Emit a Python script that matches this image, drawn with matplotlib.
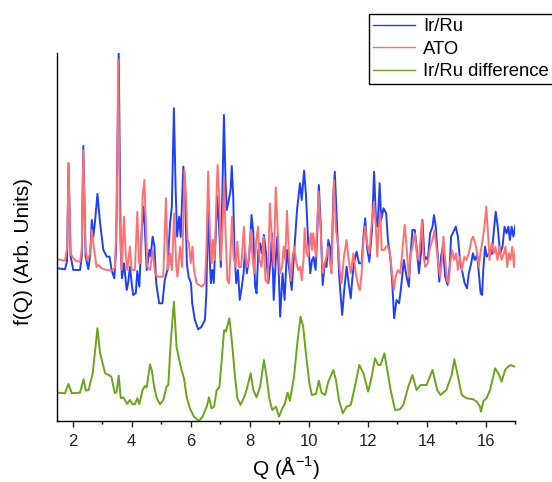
import matplotlib
matplotlib.use("Agg")
import matplotlib.pyplot as plt
from matplotlib.ticker import MultipleLocator

plt.rcParams['font.family'] = ['Liberation Sans', 'DejaVu Sans']
plt.rcParams['mathtext.fontset'] = 'custom'
plt.rcParams['mathtext.rm'] = 'Liberation Sans'

# Reduced PDF f(Q), arbitrary units (curves already offset for display)
q_irru = [1.48, 1.74, 1.81, 1.86, 1.93, 2.02, 2.25, 2.31, 2.36, 2.44, 2.53, 2.59, 2.65, 2.70, 2.76,
          2.84, 2.93, 3.04, 3.16, 3.25, 3.32, 3.41, 3.47, 3.56, 3.63, 3.67, 3.74, 3.83, 3.88, 3.94,
          4.00, 4.05, 4.14, 4.19, 4.26, 4.34, 4.40, 4.44, 4.51, 4.60, 4.64, 4.71, 4.77, 4.83, 4.93,
          5.04, 5.12, 5.21, 5.30, 5.36, 5.43, 5.49, 5.54, 5.61, 5.66, 5.75, 5.80, 5.87, 5.93, 6.01,
          6.05, 6.14, 6.25, 6.36, 6.48, 6.53, 6.59, 6.64, 6.68, 6.73, 6.78, 6.84, 6.90, 6.96, 7.02,
          7.125, 7.18, 7.22, 7.29, 7.35, 7.39, 7.44, 7.48, 7.54, 7.60, 7.66, 7.73, 7.79, 7.84, 7.90,
          7.98, 8.06, 8.12, 8.18, 8.23, 8.29, 8.35, 8.40, 8.48, 8.55, 8.63, 8.71, 8.75, 8.81, 8.88,
          8.93, 8.98, 9.03, 9.11, 9.18, 9.26, 9.34, 9.42, 9.51, 9.60, 9.70, 9.76, 9.84, 9.90, 9.98,
          10.05, 10.11, 10.16, 10.23, 10.29, 10.34, 10.40, 10.47, 10.54, 10.60, 10.66, 10.72, 10.77,
          10.83, 10.88, 10.94, 11.03, 11.13, 11.20, 11.28, 11.35, 11.42, 11.47, 11.53, 11.62, 11.70,
          11.79, 11.85, 11.91, 11.97, 12.05, 12.14, 12.21, 12.28, 12.33, 12.40, 12.45, 12.53, 12.62,
          12.68, 12.76, 12.82, 12.89, 12.97, 13.06, 13.14, 13.22, 13.31, 13.39, 13.44, 13.51, 13.59,
          13.65, 13.73, 13.80, 13.85, 13.92, 13.97, 14.03, 14.11, 14.19, 14.24, 14.30, 14.37, 14.42,
          14.48, 14.54, 14.62, 14.70, 14.77, 14.82, 14.90, 14.98, 15.05, 15.13, 15.21, 15.28, 15.36,
          15.42, 15.50, 15.56, 15.62, 15.70, 15.76, 15.82, 15.87, 15.91, 15.97, 16.03, 16.11, 16.20,
          16.26, 16.33, 16.40, 16.48, 16.56, 16.63, 16.70, 16.76, 16.81, 16.87, 16.93, 17.00]
f_irru = [152.7, 151.7, 160, 257.7, 165, 151, 151, 165, 275, 165, 151.7, 165, 201, 184, 200,
          227, 197.7, 171, 164.3, 164.3, 151, 142.7, 170, 367.7, 170, 142.7, 157.7, 131, 138, 154.3,
          138, 126, 128, 150, 134.3, 191, 214, 195, 151, 171, 165, 184.3, 175, 138, 117.7,
          117.7, 141, 151, 197.7, 214, 312.7, 230, 184.3, 204.3, 184, 254.3, 237, 157, 144, 137.7,
          117.7, 101, 91.7, 94, 101, 127.7, 221, 165, 137.7, 151, 138, 181, 224.3, 195, 154,
          306, 238, 211, 221, 231, 255, 224, 171, 137.7, 151, 121, 134.3, 148, 171, 147.7,
          164, 206, 188, 134.3, 127.7, 171, 177.7, 167.7, 186, 168, 137.7, 161, 187.7, 121, 161,
          184.3, 150, 104.3, 147.7, 121, 171, 151, 131, 171, 211, 237.7, 221, 250.3, 228, 177.7,
          147.7, 161, 164, 151, 191, 236, 198, 136, 157.7, 154, 181, 174, 157.7,
          224.3, 249.3, 208, 144.3, 106, 131, 154.3, 137.7, 122.7, 141, 157.7, 169.3, 157.7,
          157.7, 184.3, 202.7, 174, 159.3, 191, 249.3, 197.7, 194.3, 237.7, 201, 212.7, 207.7,
          181, 164.3, 141, 102.7, 121, 117.7, 137.7, 161, 144.3, 134.3, 164.3, 191, 191,
          174, 147.7, 167.7, 201, 161, 163.7, 161, 187.7, 194.3, 206, 194.3, 164.3, 139.3,
          164.3, 174.3, 144.3, 136, 154.3, 184.3, 189.3, 194.3, 184.3, 157.7, 147.7, 137.7, 132.7,
          147.7, 157.7, 167.7, 161, 166, 147.7, 127.7, 126, 151, 174.3, 164.3, 167.7, 167,
          187.7, 209.3, 194.3, 167, 174.3, 194.3, 187.7, 194.3, 181, 194.3, 184.3, 196]

q_ato = [1.48, 1.74, 1.82, 1.86, 1.93, 2.08, 2.25, 2.31, 2.36, 2.43, 2.50, 2.59, 2.65, 2.70, 2.81,
         2.88, 2.93, 3.04, 3.32, 3.43, 3.49, 3.545, 3.60, 3.66, 3.74, 3.80, 3.85, 3.94, 4.00, 4.11,
         4.19, 4.25, 4.31, 4.37, 4.43, 4.47, 4.53, 4.62, 4.71, 4.79, 4.87, 5.07, 5.16, 5.23, 5.30,
         5.36, 5.44, 5.51, 5.55, 5.64, 5.71, 5.79, 5.84, 5.89, 5.94, 6.00, 6.06, 6.11, 6.20, 6.37,
         6.48, 6.53, 6.59, 6.65, 6.71, 6.75, 6.81, 6.87, 6.91, 6.97, 7.02, 7.09, 7.13, 7.18, 7.24,
         7.30, 7.35, 7.40, 7.45, 7.52, 7.58, 7.64, 7.71, 7.80, 7.85, 7.91, 7.96, 8.04, 8.10, 8.15,
         8.22, 8.28, 8.33, 8.40, 8.47, 8.53, 8.61, 8.68, 8.75, 8.81, 8.88, 8.95, 9.02, 9.09, 9.15,
         9.20, 9.26, 9.32, 9.39, 9.45, 9.51, 9.58, 9.64, 9.71, 9.76, 9.82, 9.86, 9.92, 9.98, 10.07,
         10.11, 10.15, 10.24, 10.33, 10.40, 10.47, 10.54, 10.60, 10.66, 10.72, 10.77, 10.85, 10.92,
         11.00, 11.05, 11.11, 11.19, 11.28, 11.35, 11.42, 11.51, 11.59, 11.68, 11.73, 11.79, 11.85,
         11.91, 11.97, 12.05, 12.11, 12.21, 12.27, 12.32, 12.36, 12.42, 12.47, 12.55, 12.62, 12.68,
         12.76, 12.82, 12.88, 12.94, 13.01, 13.10, 13.18, 13.25, 13.31, 13.39, 13.44, 13.51, 13.59,
         13.67, 13.73, 13.83, 13.88, 13.94, 14.03, 14.11, 14.19, 14.26, 14.31, 14.37, 14.45, 14.51,
         14.56, 14.62, 14.68, 14.74, 14.79, 14.85, 14.92, 14.99, 15.05, 15.12, 15.19, 15.27, 15.34,
         15.42, 15.51, 15.56, 15.64, 15.70, 15.76, 15.81, 15.87, 15.95, 16.01, 16.07, 16.12, 16.19,
         16.27, 16.32, 16.39, 16.46, 16.53, 16.61, 16.66, 16.72, 16.77, 16.83, 16.89, 16.95, 17.00]
f_ato = [161.7, 160.3, 175, 257.7, 167, 160.7, 159, 172, 271, 174, 160.7, 167, 191, 177.7, 154,
         156, 154, 151.7, 150.3, 153, 200, 361, 200, 151, 204.3, 165, 151, 174.3, 151, 151,
         209.3, 158, 158, 224.3, 241, 205, 154, 151, 171, 148, 144.3, 144.3, 222.7, 151, 167.7,
         151, 207.7, 154, 144.3, 174.3, 154, 251, 224, 181, 177.7, 157.7, 174.3, 151, 137.7, 134.3,
         137.7, 171, 249.3, 188, 157.7, 181, 161, 221, 256, 221, 161, 204, 241, 188, 141,
         137.7, 171, 204.3, 164.3, 154, 179.3, 154, 154, 194.3, 164.3, 154, 161, 191, 161, 147.7,
         181, 194.3, 161, 154, 184.3, 141, 137.7, 217.7, 181, 154, 233.7, 188, 147.7, 154, 174.3,
         161, 210, 171, 140.7, 164.3, 174.3, 157.7, 151, 154, 140.7, 161, 192.7, 167.7, 164.3, 187.7,
         171, 187.7, 164.3, 229.3, 191, 147.7, 157.7, 164.3, 174.3, 157.7, 147.7, 241, 191,
         174.3, 151, 137.7, 164.3, 181, 161, 147.7, 167.7, 147.7, 134.3, 131, 147.7, 181,
         194.3, 177.7, 167.7, 191, 219.3, 194.3, 164.3, 191, 207.7, 171, 171, 174.3, 175,
         164.3, 147.7, 131, 144.3, 151, 147.7, 174.3, 196, 174.3, 144.3, 164.3, 174.3, 187.7,
         164.3, 161, 201, 167.7, 154, 157.7, 174.3, 181, 191, 177.7, 161, 144.3, 161,
         184.3, 161, 140.7, 137.7, 157.7, 171, 161, 167.7, 151, 164.3, 151, 164.3, 161,
         167.7, 181, 184.3, 177.7, 167.7, 154, 167.7, 177.7, 194.3, 214.3, 187.7, 161, 177.7,
         167.7, 174.3, 161, 174.3, 161, 167.7, 174.3, 154, 167.7, 161, 174, 154, 171]

q_diff = [1.48, 1.74, 1.86, 1.97, 2.25, 2.37, 2.45, 2.54, 2.68, 2.84, 2.93, 3.10, 3.24, 3.31, 3.43,
          3.49, 3.56, 3.63, 3.72, 3.77, 3.85, 3.94, 4.03, 4.11, 4.19, 4.26, 4.37, 4.45, 4.51, 4.62,
          4.68, 4.76, 4.85, 4.96, 5.07, 5.18, 5.24, 5.32, 5.43, 5.52, 5.61, 5.69, 5.77, 5.86, 5.97,
          6.11, 6.28, 6.40, 6.54, 6.62, 6.70, 6.79, 6.88, 6.97, 7.05, 7.13, 7.19, 7.31, 7.39, 7.50,
          7.58, 7.69, 7.84, 7.92, 8.03, 8.12, 8.23, 8.35, 8.48, 8.57, 8.66, 8.76, 8.89, 8.99, 9.08,
          9.19, 9.28, 9.36, 9.50, 9.61, 9.72, 9.81, 9.90, 10.02, 10.10, 10.24, 10.34, 10.43, 10.55,
          10.66, 10.83, 10.92, 11.02, 11.15, 11.28, 11.42, 11.56, 11.71, 11.85, 12.01, 12.13, 12.24,
          12.35, 12.43, 12.56, 12.66, 12.77, 12.92, 13.09, 13.20, 13.37, 13.51, 13.65, 13.79, 13.99,
          14.19, 14.35, 14.46, 14.66, 14.84, 14.93, 15.03, 15.18, 15.35, 15.57, 15.69, 15.80, 15.83,
          15.92, 16.02, 16.14, 16.31, 16.45, 16.53, 16.65, 16.73, 16.83, 16.91, 17.00]
f_diff = [28.3, 27.7, 37, 27.7, 28.3, 41.7, 30.3, 31, 47.7, 92.7, 67.7, 47.7, 45.7, 44.3, 27.7,
          29.3, 45.3, 22.7, 23.7, 21, 17, 21, 16.7, 16.7, 22.7, 17, 31, 35, 33.7, 56.7,
          51, 34.3, 22.7, 16.7, 21, 34.3, 36, 77.7, 119.3, 74.3, 61, 51, 42.7, 24.3, 12.7,
          4.3, 0, 4.3, 14.3, 23.7, 12.7, 14.3, 31, 33.7, 61, 91, 89.3, 102.7, 81, 44.3,
          22.7, 16, 26, 34.3, 47.7, 31, 23.7, 34.3, 61, 44.3, 22.7, 11, 14.3, 4.3, 11,
          17.7, 28.3, 20.3, 44.3, 77.7, 104.3, 94.3, 67.7, 37.7, 26, 27, 40.3, 28.3, 26,
          39.3, 51, 41, 21, 7.7, 14.3, 16, 34.3, 56, 47.7, 29.3, 44.3, 62.7,
          56, 56, 67.7, 51, 31, 11, 11.7, 16, 34.3, 46, 31, 36, 36,
          51, 31, 26, 31, 46, 61.7, 47.7, 26, 22.7, 21.7, 19.3, 14.3, 9.3,
          20.3, 22.7, 31, 52.7, 46, 39.3, 51, 53.7, 56, 55, 54.3]

series_labels = ["Ir/Ru", "ATO", "Ir/Ru difference"]
series_colors = ["#1f3fff", "#ff7070", "#6aa51c"]

fig = plt.figure(figsize=(5.52, 4.82), dpi=100)
ax = fig.add_axes([0.1038, 0.1266, 0.830, 0.7635])

ax.plot(q_irru, f_irru, color=series_colors[0], lw=1.4, label=series_labels[0])
ax.plot(q_ato, f_ato, color=series_colors[1], lw=1.4, label=series_labels[1])
ax.plot(q_diff, f_diff, color=series_colors[2], lw=1.4, label=series_labels[2])

ax.set_xlim(1.48, 17.0)
ax.set_ylim(0, 368)

ax.spines['top'].set_visible(False)
ax.spines['right'].set_visible(False)
ax.spines['left'].set_linewidth(1.0)
ax.spines['bottom'].set_linewidth(1.0)

ax.xaxis.set_major_locator(MultipleLocator(2))
ax.xaxis.set_minor_locator(MultipleLocator(1))
ax.tick_params(axis='x', which='major', length=4.5, width=1.0, labelsize=12, pad=5, colors='#222222')
ax.tick_params(axis='x', which='minor', length=2.5, width=1.0)
ax.set_yticks([])

ax.set_xlabel("Q (Å$^{-1}$)", fontsize=15)
ax.xaxis.set_label_coords(0.5, -0.09)
ax.set_ylabel("f(Q) (Arb. Units)", fontsize=15)
ax.yaxis.set_label_coords(-0.052, 0.46)

leg = ax.legend(loc='upper left', bbox_to_anchor=(369 / 552, 1 - 14 / 482),
                bbox_transform=fig.transFigure, fontsize=13.3, frameon=True,
                fancybox=False, framealpha=1, edgecolor='black', borderpad=0.22,
                handlelength=2.25, handletextpad=0.45, labelspacing=0.3, borderaxespad=0)
leg.get_frame().set_linewidth(1.0)
for line in leg.get_lines():
    line.set_linewidth(1.0)

fig.savefig("out.png", dpi=100)
